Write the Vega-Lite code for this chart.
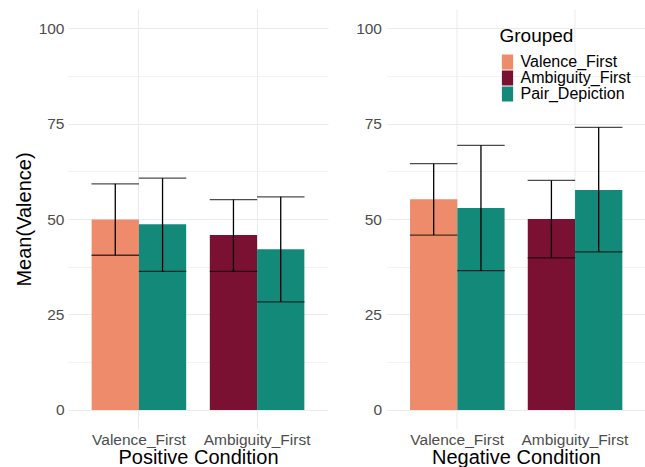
{
  "$schema": "https://vega.github.io/schema/vega-lite/v6.json",
  "padding": {"left": 14, "top": 9, "right": 0, "bottom": 0},
  "spacing": 27.5,
  "background": "white",
  "data": {
    "values": [
      {"Condition": "Positive", "Order": "Valence_First", "Grouped": "Valence_First", "Bar": "Order", "mean": 49.9, "lo": 40.5, "hi": 59.2},
      {"Condition": "Positive", "Order": "Valence_First", "Grouped": "Pair_Depiction", "Bar": "Pair", "mean": 48.6, "lo": 36.3, "hi": 60.7},
      {"Condition": "Positive", "Order": "Ambiguity_First", "Grouped": "Ambiguity_First", "Bar": "Order", "mean": 45.8, "lo": 36.3, "hi": 55.1},
      {"Condition": "Positive", "Order": "Ambiguity_First", "Grouped": "Pair_Depiction", "Bar": "Pair", "mean": 42.1, "lo": 28.3, "hi": 55.8},
      {"Condition": "Negative", "Order": "Valence_First", "Grouped": "Valence_First", "Bar": "Order", "mean": 55.2, "lo": 45.8, "hi": 64.5},
      {"Condition": "Negative", "Order": "Valence_First", "Grouped": "Pair_Depiction", "Bar": "Pair", "mean": 52.9, "lo": 36.5, "hi": 69.3},
      {"Condition": "Negative", "Order": "Ambiguity_First", "Grouped": "Ambiguity_First", "Bar": "Order", "mean": 50.0, "lo": 39.8, "hi": 60.1},
      {"Condition": "Negative", "Order": "Ambiguity_First", "Grouped": "Pair_Depiction", "Bar": "Pair", "mean": 57.6, "lo": 41.4, "hi": 74.0}
    ]
  },
  "config": {
    "font": "Liberation Sans",
    "view": {"stroke": null},
    "axis": {
      "domain": false,
      "ticks": false,
      "gridColor": "#EBEBEB",
      "labelColor": "#4D4D4D",
      "labelFontSize": 15.5,
      "labelFont": "Liberation Sans",
      "titleFont": "Liberation Sans",
      "titleFontSize": 20,
      "titleFontWeight": "normal",
      "titleColor": "black"
    }
  },
  "resolve": {"legend": {"color": "independent"}},
  "hconcat": [
    {
      "width": 260,
      "height": 420,
      "transform": [{"filter": "datum.Condition == 'Positive'"}],
      "encoding": {
        "x": {
          "field": "Order", "type": "nominal",
          "sort": ["Valence_First", "Ambiguity_First"],
          "scale": {"paddingInner": 0.2, "paddingOuter": 0.2},
          "axis": {"title": "Positive Condition", "labelAngle": 0, "grid": true, "bandPosition": 0.5, "labelPadding": 3, "titlePadding": 0}
        },
        "xOffset": {"field": "Bar", "type": "nominal", "sort": ["Order", "Pair"], "scale": {"paddingInner": 0, "paddingOuter": 0}}
      },
      "layer": [
        {
          "mark": {"type": "bar"},
          "encoding": {
            "y": {
              "field": "mean", "type": "quantitative",
              "scale": {"domain": [-5, 105], "nice": false, "zero": false},
              "axis": {
                "title": "Mean(Valence)",
                "values": [0, 12.5, 25, 37.5, 50, 62.5, 75, 87.5, 100],
                "labelExpr": "datum.value % 25 == 0 ? datum.label : ''",
                "gridWidth": {"condition": {"test": "datum.value % 25 != 0", "value": 0.6}, "value": 1},
                "labelPadding": 4,
                "titlePadding": 4
              }
            },
            "color": {
              "field": "Grouped", "type": "nominal",
              "scale": {"domain": ["Valence_First", "Ambiguity_First", "Pair_Depiction"], "range": ["#EE8B6B", "#7A1133", "#138A79"]},
              "legend": null
            }
          }
        },
        {
          "mark": {"type": "rule", "color": "black", "strokeWidth": 1.3},
          "encoding": {"y": {"field": "lo", "type": "quantitative", "title": "Mean(Valence)"}, "y2": {"field": "hi"}}
        },
        {
          "mark": {"type": "tick", "color": "black", "size": 47.5, "thickness": 1.3},
          "encoding": {"y": {"field": "lo", "type": "quantitative", "title": "Mean(Valence)"}}
        },
        {
          "mark": {"type": "tick", "color": "black", "size": 47.5, "thickness": 1.3},
          "encoding": {"y": {"field": "hi", "type": "quantitative", "title": "Mean(Valence)"}}
        }
      ]
    },
    {
      "width": 259,
      "height": 420,
      "transform": [{"filter": "datum.Condition == 'Negative'"}],
      "encoding": {
        "x": {
          "field": "Order", "type": "nominal",
          "sort": ["Valence_First", "Ambiguity_First"],
          "scale": {"paddingInner": 0.2, "paddingOuter": 0.2},
          "axis": {"title": "Negative Condition", "labelAngle": 0, "grid": true, "bandPosition": 0.5, "labelPadding": 3, "titlePadding": 0}
        },
        "xOffset": {"field": "Bar", "type": "nominal", "sort": ["Order", "Pair"], "scale": {"paddingInner": 0, "paddingOuter": 0}}
      },
      "layer": [
        {
          "mark": {"type": "bar"},
          "encoding": {
            "y": {
              "field": "mean", "type": "quantitative",
              "scale": {"domain": [-5, 105], "nice": false, "zero": false},
              "axis": {
                "title": null,
                "values": [0, 12.5, 25, 37.5, 50, 62.5, 75, 87.5, 100],
                "labelExpr": "datum.value % 25 == 0 ? datum.label : ''",
                "gridWidth": {"condition": {"test": "datum.value % 25 != 0", "value": 0.6}, "value": 1},
                "labelPadding": 5
              }
            },
            "color": {
              "field": "Grouped", "type": "nominal",
              "scale": {"domain": ["Valence_First", "Ambiguity_First", "Pair_Depiction"], "range": ["#EE8B6B", "#7A1133", "#138A79"]},
              "legend": {
                "title": "Grouped",
                "orient": "none",
                "legendX": 113,
                "legendY": 18,
                "padding": 0,
                "titleFontSize": 19,
                "titleFontWeight": "normal",
                "titleColor": "black",
                "titleFont": "Liberation Sans",
                "titlePadding": 8,
                "labelFontSize": 16,
                "labelFont": "Liberation Sans",
                "labelColor": "black",
                "labelOffset": 5,
                "symbolType": "M-0.75,-1H0.75V1H-0.75Z",
                "symbolSize": 225,
                "symbolStrokeWidth": 0,
                "rowPadding": -4
              }
            }
          }
        },
        {
          "mark": {"type": "rule", "color": "black", "strokeWidth": 1.3},
          "encoding": {"y": {"field": "lo", "type": "quantitative", "title": null}, "y2": {"field": "hi"}}
        },
        {
          "mark": {"type": "tick", "color": "black", "size": 47.5, "thickness": 1.3},
          "encoding": {"y": {"field": "lo", "type": "quantitative", "title": null}}
        },
        {
          "mark": {"type": "tick", "color": "black", "size": 47.5, "thickness": 1.3},
          "encoding": {"y": {"field": "hi", "type": "quantitative", "title": null}}
        }
      ]
    }
  ]
}
